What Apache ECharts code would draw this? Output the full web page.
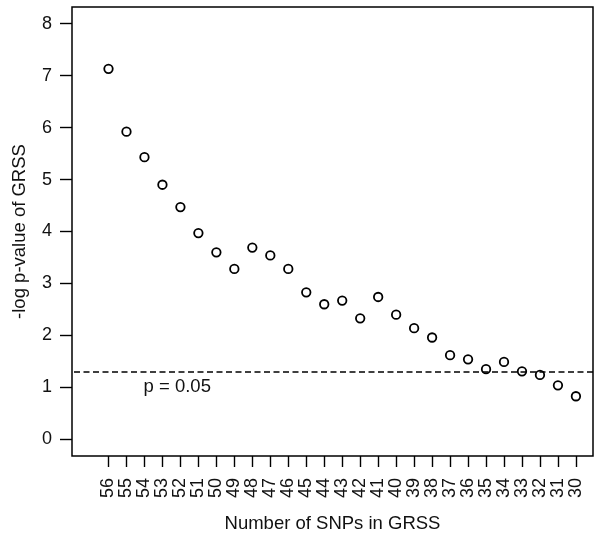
<!DOCTYPE html>
<html>
<head>
<meta charset="utf-8">
<style>html,body{margin:0;padding:0;background:#fff;}#chart{width:600px;height:538px;}</style>
<script src="https://cdn.jsdelivr.net/npm/echarts@6/dist/echarts.min.js"></script>
</head>
<body>
<div id="chart"></div>
<script>
var snps = [56,55,54,53,52,51,50,49,48,47,46,45,44,43,42,41,40,39,38,37,36,35,34,33,32,31,30];
var logP = [7.13,5.92,5.43,4.90,4.47,3.97,3.60,3.28,3.69,3.54,3.28,2.83,2.60,2.67,2.33,2.74,2.40,2.14,1.96,1.62,1.54,1.35,1.49,1.31,1.24,1.04,0.83];
var yTicks = [0,1,2,3,4,5,6,7,8];
var xTicks = snps.slice();
var threshold = 1.30;
var thresholdLabel = 'p = 0.05';

var FONT = '"Liberation Sans", Arial, sans-serif';
var chart = echarts.init(document.getElementById('chart'), null, {renderer: 'canvas'});
chart.setOption({
  animation: false,
  backgroundColor: '#fff',
  grid: {left: 72, right: 7, top: 7, bottom: 81, show: true, borderColor: '#000', borderWidth: 1.5, backgroundColor: 'transparent'},
  xAxis: {
    type: 'value', inverse: true, min: 29.05, max: 58.03,
    name: 'Number of SNPs in GRSS', nameLocation: 'middle', nameGap: 58,
    nameTextStyle: {fontFamily: FONT, fontSize: 18.5, color: '#111'},
    axisLine: {show: false, onZero: false},
    splitLine: {show: false},
    axisTick: {show: true, length: 11, inside: false, customValues: xTicks, lineStyle: {color: '#000', width: 1.4}},
    axisLabel: {show: true, customValues: xTicks, rotate: 90, margin: 22, fontFamily: FONT, fontSize: 18, color: '#111'}
  },
  yAxis: {
    type: 'value', min: -0.32, max: 8.32,
    name: '-log p-value of GRSS', nameLocation: 'middle', nameGap: 43,
    nameTextStyle: {fontFamily: FONT, fontSize: 18.5, color: '#111'},
    axisLine: {show: false, onZero: false},
    splitLine: {show: false},
    axisTick: {show: true, length: 12, inside: false, customValues: yTicks, lineStyle: {color: '#000', width: 1.4}},
    axisLabel: {show: true, customValues: yTicks, margin: 20, fontFamily: FONT, fontSize: 18, color: '#111'}
  },
  series: [{
    type: 'scatter',
    data: snps.map(function(s, i){ return [s, logP[i]]; }),
    symbol: 'circle', symbolSize: 8.5,
    itemStyle: {color: '#fff', borderColor: '#000', borderWidth: 1.8, opacity: 1},
    markLine: {
      silent: true, symbol: 'none',
      lineStyle: {color: '#000', type: [6, 3.5], width: 1.5},
      label: {show: false},
      data: [{yAxis: threshold}]
    },
    markPoint: {
      silent: true, symbol: 'circle', symbolSize: 0,
      label: {show: true, formatter: thresholdLabel, position: 'right', distance: 0, fontFamily: FONT, fontSize: 18.5, color: '#111'},
      data: [{coord: [54.05, 1.0]}]
    }
  }]
});
</script>
</body>
</html>
